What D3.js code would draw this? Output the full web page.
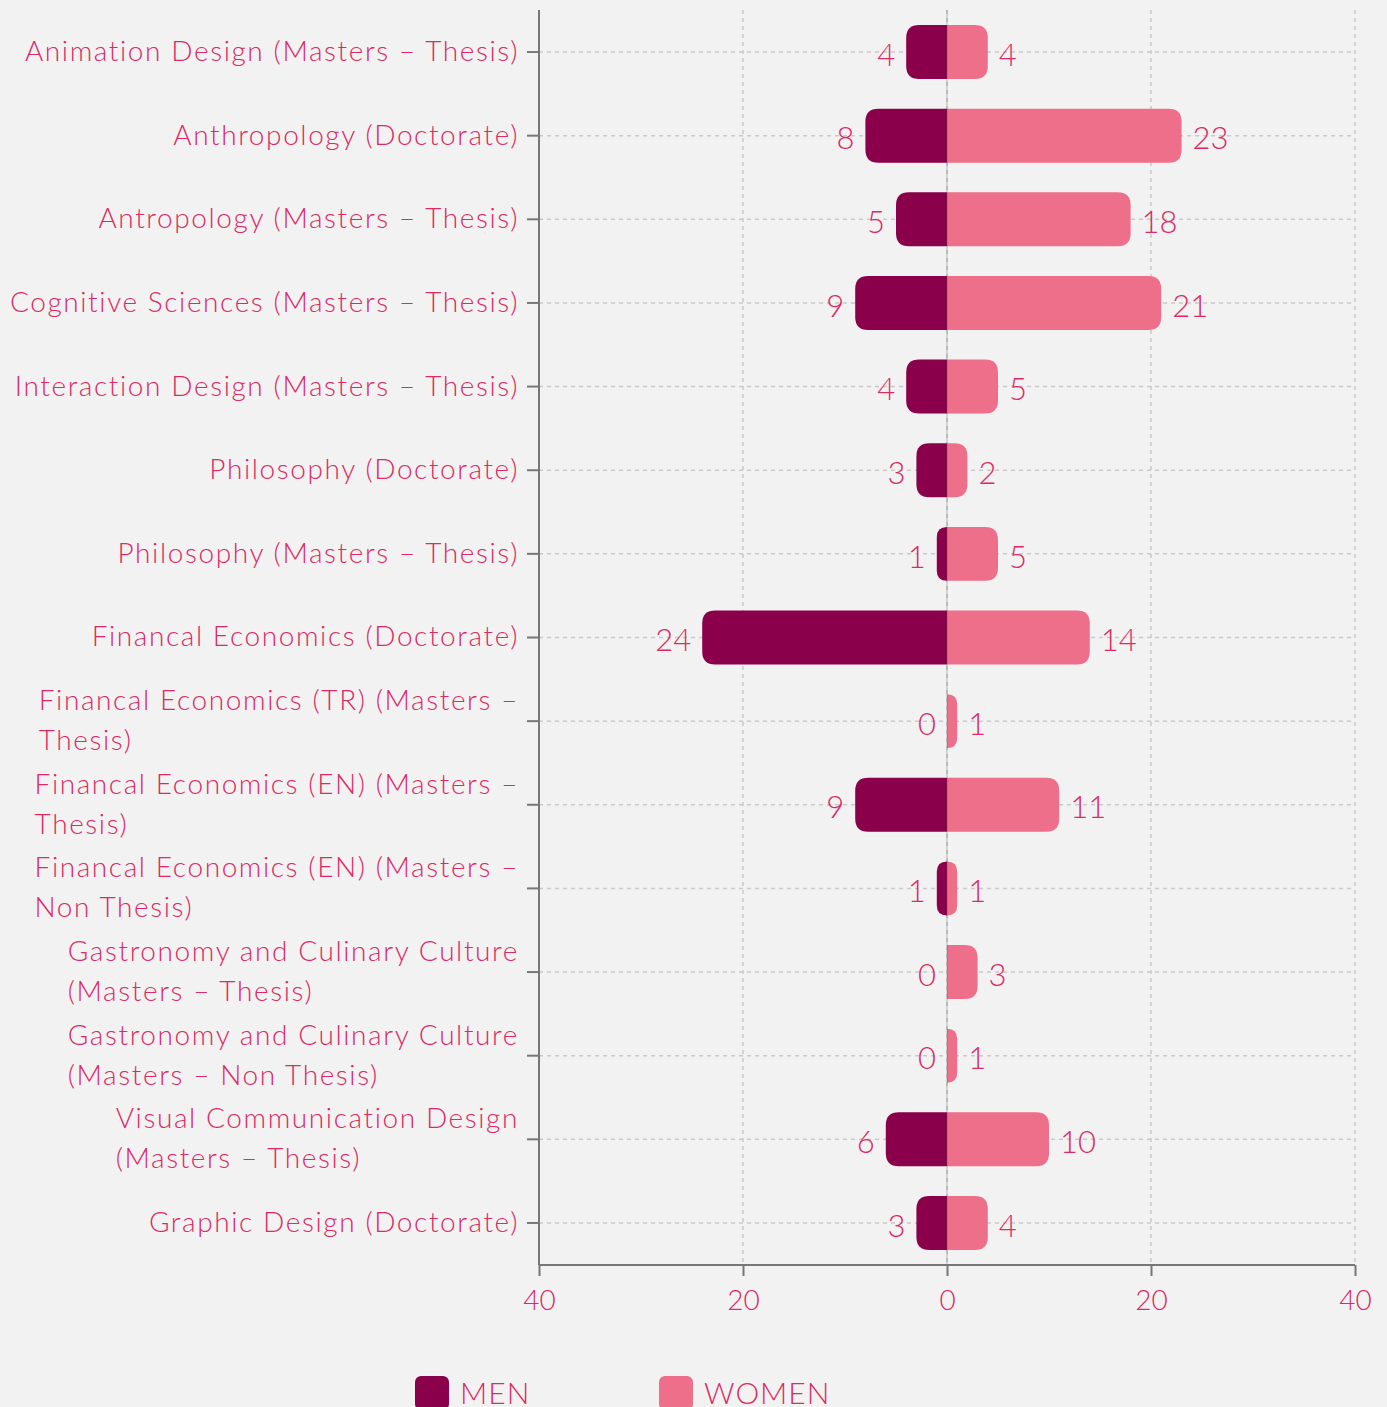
<!DOCTYPE html>
<html>
<head>
<meta charset="utf-8">
<script src="https://cdn.jsdelivr.net/npm/d3@7"></script>
<style>
  html, body { margin: 0; padding: 0; background: #f2f2f2; }
  svg { display: block; }
  text { font-family: "Lato", "Open Sans", sans-serif; font-weight: 300; }
</style>
</head>
<body>
<svg id="chart" width="1387" height="1407"></svg>
<script>
// Programme names (line breaks mark where long names wrap)
const categories = [
  "Animation Design (Masters – Thesis)",
  "Anthropology (Doctorate)",
  "Antropology (Masters – Thesis)",
  "Cognitive Sciences (Masters – Thesis)",
  "Interaction Design (Masters – Thesis)",
  "Philosophy (Doctorate)",
  "Philosophy (Masters – Thesis)",
  "Financal Economics (Doctorate)",
  "Financal Economics (TR) (Masters –\nThesis)",
  "Financal Economics (EN) (Masters –\nThesis)",
  "Financal Economics (EN) (Masters –\nNon Thesis)",
  "Gastronomy and Culinary Culture\n(Masters – Thesis)",
  "Gastronomy and Culinary Culture\n(Masters – Non Thesis)",
  "Visual Communication Design\n(Masters – Thesis)",
  "Graphic Design (Doctorate)"
];
const men   = [4, 8, 5, 9, 4, 3, 1, 24, 0, 9, 1, 0, 0, 6, 3];
const women = [4, 23, 18, 21, 5, 2, 5, 14, 1, 11, 1, 3, 1, 10, 4];
const xTicks = [-40, -20, 0, 20, 40];
const seriesNames = ["MEN", "WOMEN"];

const COLOR_MEN = "#8b004b";
const COLOR_WOMEN = "#ed6f89";
const COLOR_TEXT = "#dc2a63";
const FONT = 28;

const svg = d3.select("#chart");
const plotLeft = 539, plotRight = 1355, plotTop = 10, plotBottom = 1265;

const x = d3.scaleLinear().domain([-40, 40]).range([plotLeft, plotRight]);
const y = d3.scaleBand().domain(categories).range([plotTop, plotBottom])
  .paddingInner(0.355).paddingOuter(0.18);

// grid
const grid = svg.append("g");
grid.selectAll("line.v").data(xTicks.filter(t => t !== -40)).join("line")
  .attr("x1", d => x(d)).attr("x2", d => x(d))
  .attr("y1", plotTop).attr("y2", plotBottom)
  .attr("stroke", "#c9c9c9").attr("stroke-width", 1.5).attr("stroke-dasharray", "4,4");
grid.selectAll("line.h").data(categories).join("line")
  .attr("x1", plotLeft).attr("x2", plotRight)
  .attr("y1", d => y(d) + y.bandwidth() / 2).attr("y2", d => y(d) + y.bandwidth() / 2)
  .attr("stroke", "#c9c9c9").attr("stroke-width", 1.5).attr("stroke-dasharray", "4,4");

// bar with rounded corners on its outer end only
function barPath(x0, x1, yTop, h, dir) {
  const w = Math.abs(x1 - x0);
  if (w <= 0) return "";
  const r = Math.min(13, w);
  if (dir > 0) {
    return `M${x0},${yTop}H${x1 - r}Q${x1},${yTop} ${x1},${yTop + r}` +
      `V${yTop + h - r}Q${x1},${yTop + h} ${x1 - r},${yTop + h}H${x0}Z`;
  }
  return `M${x0},${yTop}H${x1 + r}Q${x1},${yTop} ${x1},${yTop + r}` +
    `V${yTop + h - r}Q${x1},${yTop + h} ${x1 + r},${yTop + h}H${x0}Z`;
}

const bars = svg.append("g");
bars.selectAll("path.men").data(categories).join("path")
  .attr("fill", COLOR_MEN)
  .attr("d", (c, i) => barPath(x(0), x(-men[i]), y(c), y.bandwidth(), -1));
bars.selectAll("path.women").data(categories).join("path")
  .attr("fill", COLOR_WOMEN)
  .attr("d", (c, i) => barPath(x(0), x(women[i]), y(c), y.bandwidth(), 1));

// seam along zero
svg.append("line").attr("x1", x(0)).attr("x2", x(0)).attr("y1", plotTop).attr("y2", plotBottom)
  .attr("stroke", "#555").attr("stroke-opacity", 0.25).attr("stroke-width", 1.5);

// value labels
const vals = svg.append("g").attr("fill", COLOR_TEXT).style("font-size", "31px");
vals.selectAll("text.m").data(categories).join("text")
  .attr("x", (c, i) => x(-men[i]) - 11)
  .attr("y", c => y(c) + y.bandwidth() / 2 + 6)
  .attr("text-anchor", "end").attr("dominant-baseline", "middle")
  .text((c, i) => men[i]);
vals.selectAll("text.w").data(categories).join("text")
  .attr("x", (c, i) => x(women[i]) + 11)
  .attr("y", c => y(c) + y.bandwidth() / 2 + 6)
  .attr("text-anchor", "start").attr("dominant-baseline", "middle")
  .text((c, i) => women[i]);

// left axis
const yAxis = svg.append("g").attr("transform", `translate(${plotLeft},0)`)
  .call(d3.axisLeft(y).tickSize(12).tickFormat(""));
yAxis.select(".domain").attr("stroke", "#777").attr("stroke-width", 2)
  .attr("d", `M0,${plotTop}V${plotBottom}`);
yAxis.selectAll(".tick line").attr("stroke", "#777").attr("stroke-width", 2);

// wrapped category labels: block right-aligned, lines left-aligned inside it
const labels = svg.append("g").attr("fill", COLOR_TEXT)
  .style("font-size", FONT + "px").style("letter-spacing", "1.6px");
const lineH = 40;
categories.forEach(c => {
  const lines = c.split("\n");
  const cy = y(c) + y.bandwidth() / 2;
  const g = labels.append("g");
  const texts = lines.map((ln, k) => g.append("text")
    .attr("y", cy + (k - (lines.length - 1) / 2) * lineH + 2)
    .attr("dominant-baseline", "middle")
    .text(ln));
  const w = d3.max(texts, t => t.node().getBBox().width);
  const xStart = plotLeft - 20 - w;
  texts.forEach(t => t.attr("x", xStart));
});

// bottom axis
const xAxis = svg.append("g").attr("transform", `translate(0,${plotBottom})`)
  .call(d3.axisBottom(x).tickValues(xTicks).tickSize(11).tickPadding(14)
    .tickFormat(d => Math.abs(d)));
xAxis.select(".domain").attr("stroke", "#777").attr("stroke-width", 2)
  .attr("d", `M${plotLeft},0H${plotRight}`);
xAxis.selectAll(".tick line").attr("stroke", "#777").attr("stroke-width", 2);
xAxis.selectAll(".tick text").attr("fill", COLOR_TEXT)
  .style("font-size", FONT + "px");
xAxis.attr("font-family", null).attr("font-size", null);

// legend
const legend = svg.append("g");
const legendX = [415, 659];
seriesNames.forEach((name, i) => {
  const g = legend.append("g").attr("transform", `translate(${legendX[i]},1376)`);
  g.append("rect").attr("width", 34).attr("height", 34).attr("rx", 6)
    .attr("fill", i === 0 ? COLOR_MEN : COLOR_WOMEN);
  g.append("text").attr("x", 45).attr("y", 28)
    .attr("fill", COLOR_TEXT).style("font-size", "30px").style("letter-spacing", "1px")
    .text(name);
});
</script>
</body>
</html>
